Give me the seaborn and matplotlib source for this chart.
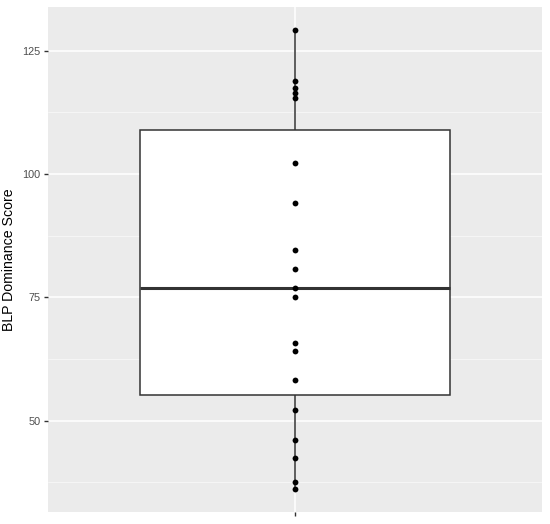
import numpy as np
import pandas as pd
import seaborn as sns
from matplotlib import pyplot as plt
from matplotlib.ticker import MultipleLocator

# BLP dominance scores (19 subjects)
scores = [129.1, 118.9, 117.5, 116.3, 115.4, 102.3, 94.2, 84.6, 80.7, 76.8,
          75.1, 65.7, 64.1, 58.2, 52.2, 46.0, 42.4, 37.6, 36.1]
y_ticks = [50, 75, 100, 125]
y_label = "BLP Dominance Score"

data = pd.DataFrame({"group": [""] * len(scores), "score": scores})

sns.set_theme(style="darkgrid", rc={
    "axes.facecolor": "#EBEBEB",
    "grid.color": "white",
    "axes.edgecolor": "#EBEBEB",
})
plt.rcParams["font.family"] = ["Liberation Sans", "DejaVu Sans"]

fig = plt.figure(figsize=(5.5, 5.24), dpi=100)
ax = fig.add_axes([0.0867, 0.0223, 0.8995, 0.9637])

sns.boxplot(data=data, x="group", y="score", width=0.75, whis=np.inf,
            color="white", linecolor="#333333", linewidth=1.1,
            showcaps=False,
            medianprops={"linewidth": 2.2, "color": "#333333"},
            ax=ax, zorder=2)
sns.stripplot(data=data, x="group", y="score", jitter=False, color="black",
              size=4.2, ax=ax, zorder=3)

lo, hi = min(scores), max(scores)
pad = (hi - lo) * 0.05
ax.set_ylim(lo - pad, hi + pad)
ax.set_xlim(-0.6, 0.6)

ax.set_yticks(y_ticks)
ax.yaxis.set_minor_locator(MultipleLocator(12.5))
ax.grid(which="major", color="white", linewidth=1.1)
ax.grid(which="minor", color="#F7F7F7", linewidth=0.6)
ax.set_axisbelow(True)

ax.tick_params(axis="both", which="major", length=3, width=1.0,
               color="#333333", labelcolor="#4D4D4D", labelsize=7.8, pad=2,
               left=True, bottom=True)
ax.tick_params(axis="both", which="minor", length=0)
ax.set_xticks([0])
ax.set_xticklabels([""])

ax.set_xlabel("")
ax.set_ylabel(y_label, fontsize=10.2, color="black", labelpad=5)
for s in ax.spines.values():
    s.set_visible(False)

fig.savefig("out.png", dpi=100)
